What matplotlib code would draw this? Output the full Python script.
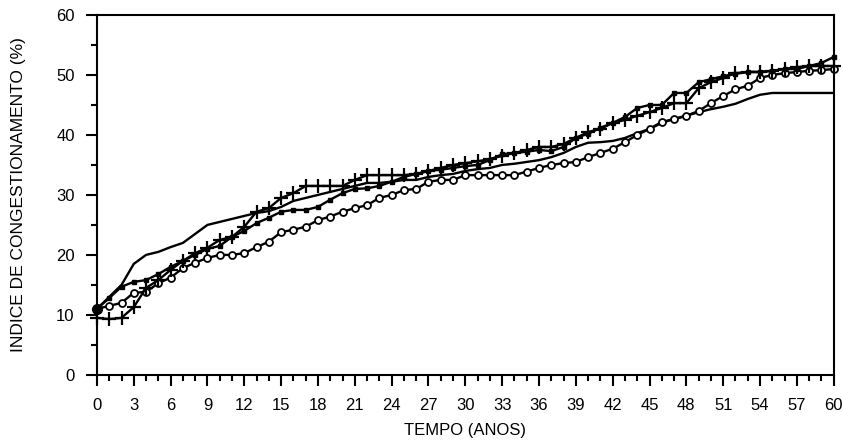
import numpy as np
import matplotlib
matplotlib.use('Agg')
import matplotlib.pyplot as plt
from matplotlib.ticker import MultipleLocator

plt.rcParams['font.family'] = ['Liberation Sans', 'DejaVu Sans']

anos = np.arange(0, 61)

# linha simples (sem marcador)
linha = [11, 13, 15, 18.5, 20, 20.5, 21.3, 22, 23.5, 25, 25.5, 26, 26.5, 27, 27.3,
         28, 29, 29.5, 30, 30.5, 31, 31.5, 32, 32, 32.2, 32.5, 32.5, 33, 33.3, 33.5,
         34, 34.3, 34.5, 35, 35.2, 35.5, 35.8, 36.3, 37, 38, 38.7, 38.8, 39, 39.5, 40.3,
         41, 42, 42.7, 43.2, 43.8, 44.3, 44.7, 45.2, 46, 46.7, 47, 47, 47, 47, 47, 47]

quadrados = [11, 12.8, 14.7, 15.5, 15.8, 16.8, 18, 19, 20, 21, 21.5, 23, 24, 25.3, 26.2,
             27.2, 27.5, 27.5, 28, 29.2, 30.3, 31, 31.1, 31.5, 32.2, 33, 33.5, 34, 34.2, 34.5,
             34.8, 35, 35.8, 36.8, 37, 37.2, 37.5, 37.3, 38, 39.5, 40.2, 41.2, 42, 43, 44.5,
             45, 45, 47, 47, 48.8, 49.3, 49.8, 50.2, 50.5, 50.5, 50.7, 51, 51, 51.5, 52, 53]

cruzes = [9.5, 9.3, 9.5, 11.3, 14.5, 15.8, 17.5, 19, 20.3, 21.2, 22.5, 23, 24.7, 27.2, 27.8,
          29.5, 30.3, 31.5, 31.5, 31.5, 31.5, 32.5, 33.3, 33.3, 33.3, 33.3, 33.5, 34, 34.5, 35,
          35.3, 35.6, 36, 36.5, 37, 37.5, 38, 38, 38.5, 39.5, 40.5, 41, 42, 42.5, 43.2,
          43.8, 44.5, 45.3, 45.3, 47.8, 48.8, 49.5, 50.3, 50.5, 50.5, 50.7, 51, 51.3, 51.5, 51.5, 51.5]

circulos = [11, 11.5, 12, 13.7, 13.8, 15.3, 16.2, 17.8, 18.7, 19.5, 20, 20, 20.3, 21.3, 22.2,
            23.8, 24.2, 24.7, 25.8, 26.4, 27.2, 27.8, 28.3, 29.5, 30, 30.8, 31, 32.2, 32.5, 32.5,
            33.3, 33.3, 33.3, 33.3, 33.3, 33.9, 34.5, 35, 35.3, 35.5, 36.3, 37, 37.7, 38.8, 40,
            41, 42.2, 42.6, 43.2, 44, 45.3, 46.5, 47.6, 48.2, 49.5, 50, 50.3, 50.5, 50.7, 50.8, 51]

fig = plt.figure(figsize=(8.43, 4.41), dpi=100)
ax = fig.add_axes([0.115, 0.15, 0.874, 0.816])

ax.plot(anos, linha, color='black', lw=1.7)
ax.plot(anos, circulos, color='black', lw=1.7, marker='o', ms=5, mfc='white', mew=1.3, clip_on=False)
ax.plot(anos, quadrados, color='black', lw=1.7, marker='s', ms=3.3, clip_on=False)
ax.plot(anos, cruzes, color='black', lw=1.7, marker='+', ms=10, mew=1.6, clip_on=False)
ax.plot([0], [11], 'o', color='black', ms=7, clip_on=False)

ax.set_xlim(0, 60)
ax.set_ylim(0, 60)
ax.xaxis.set_major_locator(MultipleLocator(3))
ax.xaxis.set_minor_locator(MultipleLocator(1))
ax.yaxis.set_major_locator(MultipleLocator(10))
ax.yaxis.set_minor_locator(MultipleLocator(5))
ax.tick_params(which='major', direction='out', length=8, width=1.5, labelsize=12, colors='black')
ax.tick_params(which='minor', direction='out', length=4, width=1.5)
ax.tick_params(axis='x', pad=9)
ax.tick_params(axis='y', pad=8)
for s in ax.spines.values():
    s.set_linewidth(1.5)

ax.set_xlabel('TEMPO (ANOS)', fontsize=12, labelpad=7)
ax.set_ylabel('INDICE DE CONGESTIONAMENTO (%)', fontsize=12.5, labelpad=22)

fig.savefig('out.png', dpi=100)
